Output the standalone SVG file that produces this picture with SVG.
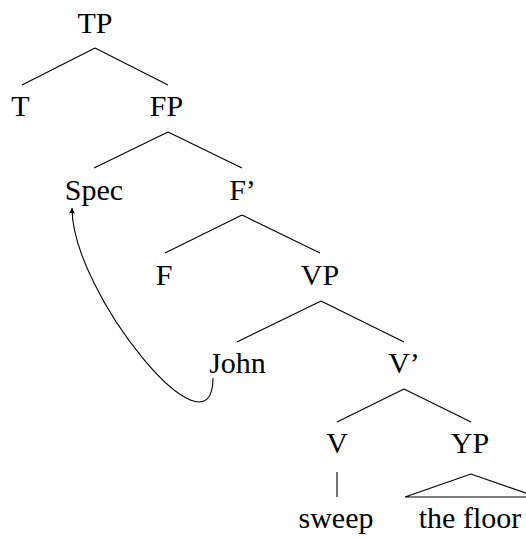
<svg xmlns="http://www.w3.org/2000/svg" width="526" height="537" viewBox="0 0 526 537">
<style>
.t{font-family:"Liberation Serif","Times New Roman",serif;font-size:30px;fill:#000;text-anchor:middle}
.e{stroke:#000;stroke-width:1.1;fill:none}
</style>
<defs>
<marker id="ah" viewBox="-6 -4 7 8" refX="0" refY="0" markerWidth="7" markerHeight="8" markerUnits="userSpaceOnUse" orient="auto">
<path d="M0,0 L-5.5,-3 Q-4,0 -5.5,3 Z" fill="#000"/>
</marker>
</defs>
<rect width="526" height="537" fill="#fff"/>
<g id="connectors">
<path class="e" d="M95,48 L22,85 M95,48 L168,85"/>
<path class="e" d="M168,132 L94,168 M168,132 L242,168"/>
<path class="e" d="M242,215 L165,253 M242,215 L320,253"/>
<path class="e" d="M321,301 L237,342 M321,301 L404,342"/>
<path class="e" d="M404,389 L337,422 M404,389 L471,422"/>
<path class="e" d="M337,472 L337,497"/>
<path class="e" d="M471,474 L405,497 L537,497 Z"/>
<path class="e" d="M213,378 C213,465 72,294 72,208" marker-end="url(#ah)"/>
</g>
<g class="t">
<g id="n-TP"><text x="95" y="33">TP</text></g>
<g id="n-T"><text x="20.5" y="116">T</text></g>
<g id="n-FP"><text x="166.5" y="116">FP</text></g>
<g id="n-Spec"><text x="94" y="200">Spec</text></g>
<g id="n-Fbar"><text x="242.5" y="200">F’</text></g>
<g id="n-F"><text x="164" y="285">F</text></g>
<g id="n-VP"><text x="320" y="285">VP</text></g>
<g id="n-John"><text x="237.5" y="373">John</text></g>
<g id="n-Vbar"><text x="404" y="373">V’</text></g>
<g id="n-V"><text x="337" y="453">V</text></g>
<g id="n-YP"><text x="470" y="453">YP</text></g>
<g id="n-sweep"><text x="336" y="528">sweep</text></g>
<g id="n-thefloor"><text x="470" y="528">the floor</text></g>
</g>
</svg>
